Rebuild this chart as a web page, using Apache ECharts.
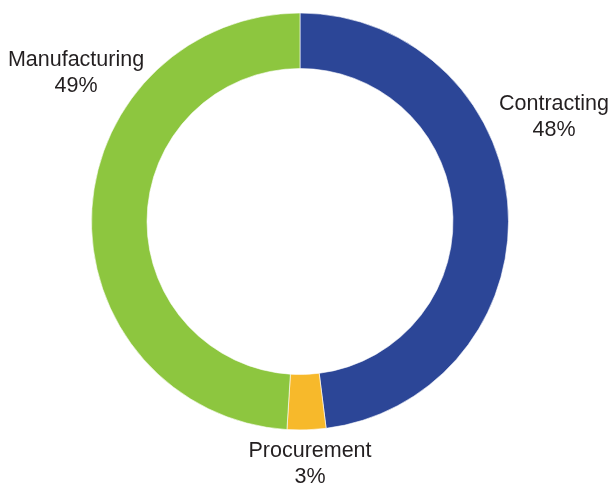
<!DOCTYPE html>
<html>
<head>
<meta charset="utf-8">
<script src="https://cdn.jsdelivr.net/npm/echarts@6/dist/echarts.min.js"></script>
<style>html,body{margin:0;padding:0;background:#fff}#c{width:611px;height:486px}</style>
</head>
<body>
<div id="c"></div>
<script>
const categories = ['Contracting', 'Procurement', 'Manufacturing'];
const values = [48, 3, 49];
const colors = ['#2c4697', '#f7b92b', '#8dc63f'];
const labelPos = [[554, 117], [310, 464], [76, 73]];

const chart = echarts.init(document.getElementById('c'), null, {renderer: 'canvas'});
chart.setOption({
  animation: false,
  series: [{
    type: 'pie',
    center: [300, 221.5],
    radius: [153, 208.5],
    startAngle: 90,
    clockwise: true,
    data: categories.map((n, i) => ({name: n, value: values[i], itemStyle: {color: colors[i]}})),
    itemStyle: {borderColor: '#ffffff', borderWidth: 0.6},
    label: {
      show: true,
      position: 'outside',
      alignTo: 'none',
      overflow: 'none',
      width: 300,
      formatter: '{b}\n{c}%',
      fontFamily: 'Liberation Sans, Arial, sans-serif',
      fontSize: 21.5,
      lineHeight: 26,
      color: '#231f20',
      align: 'center'
    },
    labelLine: {show: false},
    labelLayout: function (p) {
      return {x: labelPos[p.dataIndex][0], y: labelPos[p.dataIndex][1], align: 'center', verticalAlign: 'middle', hideOverlap: false};
    },
    emphasis: {disabled: true}
  }]
});
</script>
</body>
</html>
